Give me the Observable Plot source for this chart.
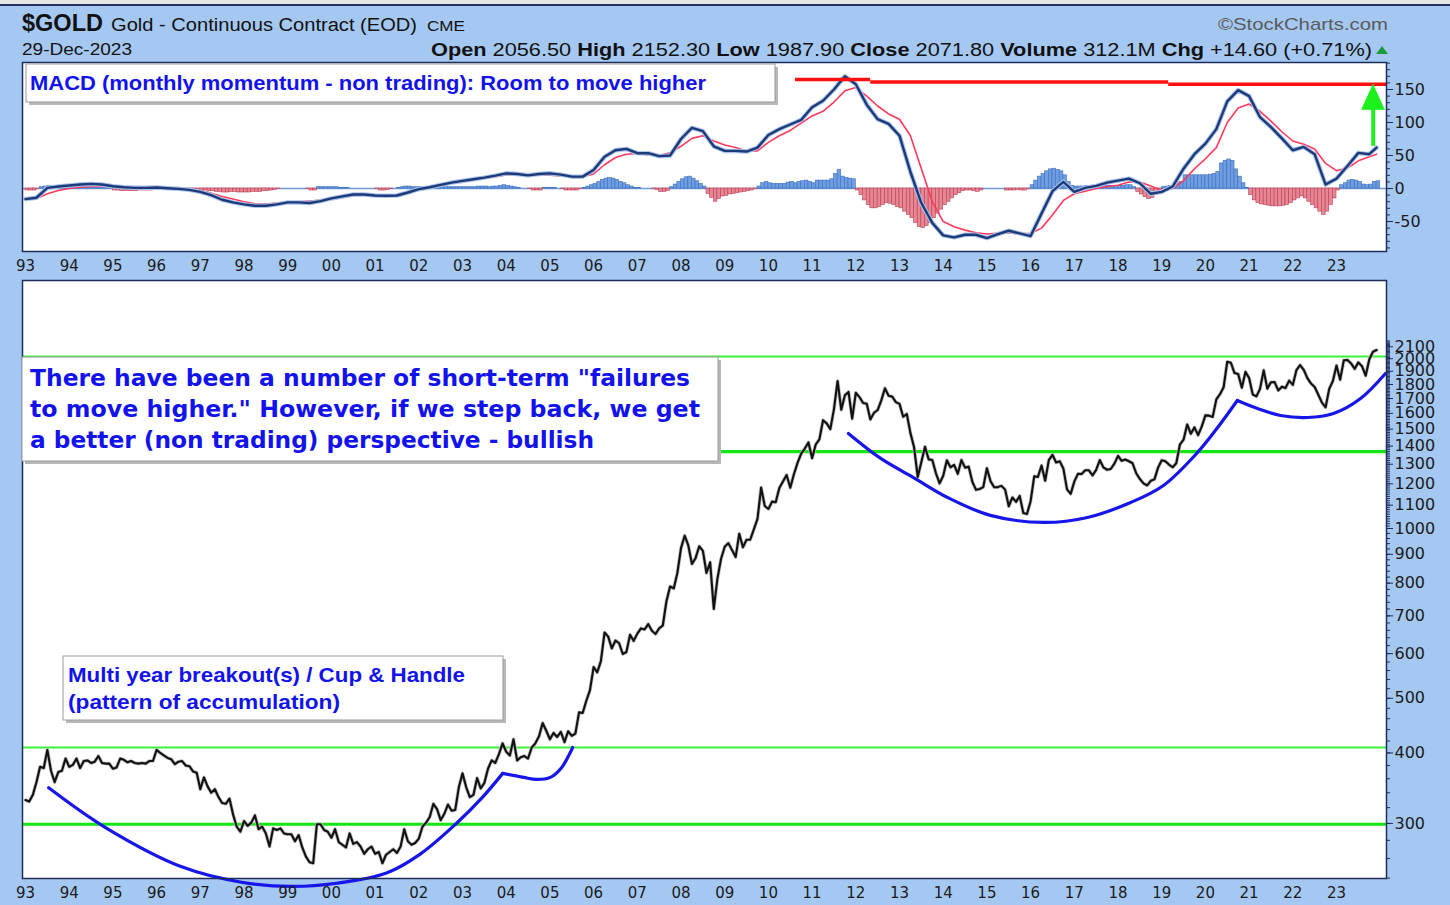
<!DOCTYPE html>
<html><head><meta charset="utf-8">
<script src="https://cdn.jsdelivr.net/npm/d3@7"></script>
<script src="https://cdn.jsdelivr.net/npm/@observablehq/plot@0.6"></script>
<style>
body{margin:0;}
#root{position:relative;width:1450px;height:905px;background:#a5c8f3;overflow:hidden;}
#macd{position:absolute;left:0;top:60px;}
#price{position:absolute;left:0;top:278px;}
#ov{position:absolute;left:0;top:0;pointer-events:none;}
</style></head>
<body><div id="root">
<div style="position:absolute;left:0;top:0;width:1450px;height:4px;background:#e6e6e6"></div>
<div style="position:absolute;left:0;top:4px;width:1450px;height:2px;background:#26325e"></div>
<div id="macd"></div>
<div id="price"></div>
<svg id="ov" width="1450" height="905" xmlns="http://www.w3.org/2000/svg">
  <g font-family="'Liberation Sans Narrow','Liberation Sans',Arial,sans-serif" fill="#111">
    <text x="22" y="31" font-size="23" font-weight="bold" textLength="81" lengthAdjust="spacingAndGlyphs">$GOLD</text>
    <text x="111" y="31" font-size="18" textLength="306" lengthAdjust="spacingAndGlyphs">Gold - Continuous Contract (EOD)</text>
    <text x="427" y="31" font-size="15" font-family="'Liberation Sans',Arial" textLength="38" lengthAdjust="spacingAndGlyphs">CME</text>
    <text x="1218" y="30" font-size="17" fill="#5a5a5a" textLength="170" lengthAdjust="spacingAndGlyphs">©StockCharts.com</text>
    <text x="22" y="55" font-size="16" font-family="'Liberation Sans',Arial" textLength="110" lengthAdjust="spacingAndGlyphs">29-Dec-2023</text>
    <text x="431" y="56" font-size="18" textLength="941" lengthAdjust="spacingAndGlyphs"><tspan font-weight="bold">Open</tspan> 2056.50  <tspan font-weight="bold">High</tspan> 2152.30  <tspan font-weight="bold">Low</tspan> 1987.90  <tspan font-weight="bold">Close</tspan> 2071.80  <tspan font-weight="bold">Volume</tspan> 312.1M  <tspan font-weight="bold">Chg</tspan> +14.60 (+0.71%)</text>
    <polygon points="1376,54 1382,46 1388,54" fill="#1a9a3a"/>
  </g>
  <!-- annotation boxes -->
  <rect x="29" y="67" width="749" height="38" fill="#b8b8b8"/>
  <rect x="26" y="64" width="749" height="38" fill="#fff" stroke="#9a9a9a"/>
  <text x="30" y="90" font-family="'Liberation Sans Narrow','Liberation Sans',Arial,sans-serif" font-size="21" font-weight="bold" fill="#1212ee" textLength="676" lengthAdjust="spacingAndGlyphs">MACD (monthly momentum - non trading): Room to move higher</text>

  <rect x="25" y="360" width="696" height="104" fill="#b8b8b8"/>
  <rect x="22" y="357" width="696" height="104" fill="#fff" stroke="#9a9a9a"/>
  <g font-family="'DejaVu Sans',Verdana,sans-serif" font-size="23" font-weight="bold" fill="#1212ee">
    <text x="30" y="386" textLength="660" lengthAdjust="spacingAndGlyphs">There have been a number of short-term "failures</text>
    <text x="30" y="417" textLength="670" lengthAdjust="spacingAndGlyphs">to move higher." However, if we step back, we get</text>
    <text x="30" y="448" textLength="564" lengthAdjust="spacingAndGlyphs">a better (non trading) perspective - bullish</text>
  </g>

  <rect x="66" y="659" width="440" height="64" fill="#b8b8b8"/>
  <rect x="63" y="656" width="440" height="64" fill="#fff" stroke="#9a9a9a"/>
  <g font-family="'Liberation Sans Narrow','Liberation Sans',Arial,sans-serif" font-size="21" font-weight="bold" fill="#1212ee">
    <text x="68" y="682" textLength="397" lengthAdjust="spacingAndGlyphs">Multi year breakout(s) / Cup &amp; Handle</text>
    <text x="68" y="709" textLength="272" lengthAdjust="spacingAndGlyphs">(pattern of accumulation)</text>
  </g>
</svg>
</div>
<script>
// ---------------- DATA ----------------
// Monthly gold closes, Jan 1993 .. Dec 2023 (one row per year)
const goldClose = [
 330,328,337,355,378,376,405,372,355,370,372,391,
 378,381,391,376,387,388,384,386,395,384,383,383,
 375,377,391,389,385,387,384,383,384,383,387,387,
 405,400,396,392,390,382,386,387,380,379,371,369,
 345,362,349,340,345,334,326,325,332,311,296,290,
 303,297,301,310,293,296,288,273,294,292,294,288,
 287,287,279,286,272,262,256,255,299,299,292,290,
 283,293,278,275,272,288,276,278,273,265,270,273,
 265,267,255,264,267,270,266,273,293,279,275,277,
 282,296,301,308,325,318,304,312,324,316,317,348,
 368,348,334,337,361,346,354,375,388,384,398,416,
 402,396,423,388,393,395,391,409,416,428,452,438,
 423,434,427,436,418,437,429,433,472,471,495,517,
 568,556,582,654,643,613,633,626,599,604,648,632,
 651,665,662,677,659,650,665,673,743,789,783,834,
 923,971,933,865,886,930,913,834,871,720,815,884,
 928,942,916,890,979,926,955,955,996,1040,1182,1096,
 1083,1116,1113,1180,1212,1244,1181,1248,1307,1357,1386,1421,
 1332,1409,1439,1556,1536,1500,1628,1826,1624,1722,1746,1566,
 1740,1710,1669,1664,1561,1604,1622,1687,1773,1719,1713,1675,
 1663,1578,1596,1476,1393,1234,1312,1396,1326,1323,1253,1202,
 1240,1321,1284,1296,1250,1322,1282,1287,1210,1171,1175,1184,
 1279,1213,1183,1184,1190,1172,1095,1135,1115,1142,1065,1061,
 1118,1238,1234,1293,1215,1322,1351,1309,1316,1277,1173,1152,
 1211,1250,1249,1268,1268,1242,1270,1322,1283,1271,1275,1303,
 1345,1318,1325,1316,1305,1253,1224,1202,1192,1215,1222,1282,
 1321,1316,1298,1284,1305,1409,1437,1529,1472,1511,1464,1517,
 1587,1585,1577,1694,1730,1780,1975,1967,1886,1879,1776,1895,
 1848,1728,1715,1768,1907,1770,1817,1818,1757,1784,1774,1829,
 1797,1909,1949,1911,1848,1807,1782,1726,1672,1640,1768,1826,
 1945,1836,1986,1990,1962,1919,1970,1940,1866,1994,2057,2072
];
// MACD line, quarterly readings 1993Q1 .. 2023Q4, then Dec 2023
const macdLine = [
 -16,-14,1,3,  4.5,6,7,6,  3.5,2,1,1,  1.5,0.5,-0.5,-2,  -5,-10,-17,-21,
 -24,-26,-26,-24,  -21,-21,-22,-19,  -15,-12,-9,-9,  -10.5,-11,-10.6,-6,  -1,2,5.5,9,
 11.5,14,16.5,19.5,  23,22,20,22,  23,21,18,18,  28,48,58,60,  53.5,53.5,49,50,
 75,92,87,64,  57,57,56,62,  81,90,97,104,  123,133,150,170,  158,127,105,98,
 80,25,-22,-52,  -71,-74,-70,-70,  -75,-69,-64,-68,  -72,-38,-4,10,  -5,1,4,9,
 12,15,8,-8,  -5,3,30,52,  68,90,132,149,  140,108,93,76,  58,63,52,6,
 15,34,54,52,  62
];
// Signal line, same dates
const signalLine = [
 -16,-15,-8,-3,  0,2,3,3.5,  3,2,1.5,1,  1,0.5,0,-1.5,  -3,-7,-12,-16,
 -20,-23,-23.5,-22,  -21,-20,-19,-18,  -16,-13,-11,-10,  -10,-10,-9,-5,  -2,2,5,8,
 10.5,13,15.5,18,  20.5,21,20,20,  20,19,18,18,  22,36,47,52,  53,51,50,54,
 64,76,80,72,  66,62,57,57,  70,80,88,99,  110,117,131,148,  153,140,125,113,
 105,80,30,-20,  -50,-58,-63,-67,  -69,-68,-67,-69,  -68,-60,-40,-18,  -8,-4,0,3,
 5,10,10,4,  -3,0,12,30,  45,62,100,122,  128,117,102,86,  72,67,60,38,
 27,31,42,48,  52
];
// MACD histogram, monthly Jan 1993 .. Dec 2023
const macdHist = [
 -3,-3,-3,-1,2,3,4,4,3,3,3,2,
 2,2,2,2,3,3,2,2,2,2,2,1,
 -3,-3,-4,-4,-4,-4,-4,-3,-3,-3,-3,-2,
 1,1,1,1,0,0,-2,-3,-3,-3,-3,-3,
 -3,-3,-4,-4,-5,-5,-6,-6,-5,-5,-6,-6,
 -6,-6,-5,-5,-5,-4,-4,-3,-2,-1,0,0,
 0,0,0,0,0,-1,-3,-3,2,2,2,2,
 2,2,1,1,1,0,0,0,0,0,0,0,
 -1,-3,-3,-2,-1,0,1,2,3,3,2,2,
 2,2,2,2,3,3,2,2,2,2,2,2,
 2,2,2,2,3,3,3,2,3,3,4,5,
 4,3,2,1,0,0,-1,-3,-3,-3,1,1,
 1,1,0,-1,-3,-3,-3,-3,-1,1,3,5,
 7,10,13,15,16,15,13,10,8,5,3,1,
 1,0,0,0,-1,-2,-5,-5,-4,2,6,10,
 14,17,18,15,11,7,3,-8,-14,-20,-16,-12,
 -11,-9,-8,-7,-6,-5,-4,-3,-1,3,8,10,
 8,7,7,7,7,9,10,8,10,11,12,10,
 8,12,12,12,12,14,22,28,18,16,15,14,
 -3,-10,-18,-25,-30,-30,-28,-25,-22,-23,-25,-28,
 -30,-35,-40,-45,-52,-58,-60,-57,-52,-45,-38,-32,
 -25,-20,-15,-10,-7,-4,-3,-3,-4,-5,-3,0,
 0,0,0,0,0,-3,-3,-3,-2,-3,-3,-1,
 5,12,18,22,26,29,30,28,26,20,10,4,
 3,3,3,4,4,4,4,5,5,4,4,4,
 4,4,5,5,2,-5,-9,-13,-16,-14,-9,-4,
 2,3,4,6,8,10,20,20,20,20,20,20,
 20,21,22,25,38,42,44,42,29,18,8,1,
 -10,-18,-22,-24,-25,-26,-27,-27,-27,-26,-25,-22,
 -18,-15,-12,-15,-20,-25,-30,-35,-40,-35,-25,-15,
 -3,5,8,12,13,12,10,6,5,6,10,11
];
// Hand-drawn MACD resistance (red) : [from year, to year, level]
const macdResistance = [[2010.62, 2012.34, 165], [2012.34, 2019.16, 161.5], [2019.16, 2024.15, 158]];
// Green arrow in MACD panel
const arrowShaft = {t: 2023.84, from: 64, to: 121};
const arrowHead = [{t: 2023.84, v: 158}, {t: 2023.58, v: 120}, {t: 2024.10, v: 120}];
// Price support / resistance levels (green)
const thickLevels = [1369, 299];
const thinLevels = [2018, 409];
// Hand-drawn cup & handle curves (year, price)
const cup1 = [[1993.53,347],[1994.83,295],[1996.59,251],[1997.94,236],[1999.09,232],[2000.12,235],[2001.26,245],[2002.04,265],[2002.84,299],[2003.46,334],[2003.92,368]];
const handle1 = [[2003.92,368],[2004.40,362],[2004.69,359],[2005.01,362],[2005.27,377],[2005.52,409]];
const cup2 = [[2011.83,1474],[2012.57,1331],[2013.32,1231],[2014.10,1135],[2015.08,1055],[2016.30,1025],[2017.30,1046],[2018.29,1112],[2019.04,1192],[2019.82,1364],[2020.28,1510],[2020.73,1686]];
const handle2 = [[2020.73,1686],[2021.19,1632],[2021.72,1586],[2022.34,1573],[2022.93,1599],[2023.55,1700],[2024.12,1883]];
// Axis ticks
const yearTicks = d3.range(1993, 2024);
const macdTicks = [-50, 0, 50, 100, 150];
const priceTicks = [300,400,500,600,700,800,900,1000,1100,1200,1300,1400,1500,1600,1700,1800,1900,2000,2100];

// ---------------- BUILD ----------------
const xDomain = [1992.931, 2024.144];
const yearLabel = d => String(d).slice(2);
const monthT = i => 1993 + i / 12;
const qT = i => (i < 124 ? 1993 + i / 4 : 2023 + 11 / 12);

const price = goldClose.map((v, i) => ({t: monthT(i), v}));
const macd = macdLine.map((v, i) => ({t: qT(i), v}));
const signal = signalLine.map((v, i) => ({t: qT(i), v}));
const hist = macdHist.map((v, i) => ({t: monthT(i), t2: monthT(i) + 1 / 12, v}));
const toPts = a => a.map(([t, v]) => ({t, v}));

const baseStyle = {background: "transparent", fontFamily: "'DejaVu Sans', Verdana, sans-serif", fontSize: "15px", color: "#1a1a1a", overflow: "visible"};
const frameColor = "#1e2c5c";

const macdPlot = Plot.plot({
  width: 1450, height: 218,
  marginLeft: 22, marginRight: 64, marginTop: 2, marginBottom: 27,
  style: baseStyle,
  x: {domain: xDomain, label: null},
  y: {domain: [-95.4, 190.9], label: null},
  marks: [
    Plot.frame({fill: "white", stroke: "none"}),
    Plot.ruleY([0], {stroke: "#6f9bd8", strokeWidth: 1.3}),
    Plot.rect(hist.filter(d => d.v > 0), {x1: "t", x2: "t2", y1: 0, y2: "v", fill: "#6f9de0", stroke: "#3c6fc0", strokeWidth: 0.6}),
    Plot.rect(hist.filter(d => d.v < 0), {x1: "t", x2: "t2", y1: 0, y2: "v", fill: "#e58895", stroke: "#c23a52", strokeWidth: 0.6}),
    Plot.line(signal, {x: "t", y: "v", stroke: "#ff3a5c", strokeWidth: 1.6}),
    Plot.line(macd, {x: "t", y: "v", stroke: "#a9c1ea", strokeWidth: 4.5}),
    Plot.line(macd, {x: "t", y: "v", stroke: "#1c3a78", strokeWidth: 2.4}),
    Plot.ruleY(macdResistance, {x1: d => d[0], x2: d => d[1], y: d => d[2], stroke: "#ff1010", strokeWidth: 3.5}),
    Plot.ruleX([arrowShaft], {x: "t", y1: "from", y2: "to", stroke: "#1df01d", strokeWidth: 4}),
    Plot.line(arrowHead, {x: "t", y: "v", fill: "#1df01d", stroke: "#1df01d", strokeWidth: 1}),
    Plot.axisX({ticks: yearTicks, tickFormat: yearLabel, tickSize: 0, tickPadding: 9, fontSize: 15}),
    Plot.axisY({anchor: "right", ticks: d3.range(-90, 191, 10), tickSize: 3, tickFormat: () => "", stroke: frameColor}),
    Plot.axisY({anchor: "right", ticks: macdTicks, tickSize: 6, tickPadding: 2, tickFormat: d => String(d), fontSize: 16, stroke: frameColor}),
    Plot.frame({stroke: frameColor, strokeWidth: 1.5})
  ]
});
document.getElementById("macd").append(macdPlot);

const minorPriceTicks = d3.range(240, 1000, 20).concat(d3.range(1000, 2160, 10));
const pricePlot = Plot.plot({
  width: 1450, height: 627,
  marginLeft: 22, marginRight: 64, marginTop: 2, marginBottom: 27,
  style: baseStyle,
  x: {domain: xDomain, label: null},
  y: {type: "log", domain: [239.6, 2752], label: null},
  marks: [
    Plot.frame({fill: "white", stroke: "none"}),
    Plot.ruleY(thinLevels, {stroke: "#3cf03c", strokeWidth: 2}),
    Plot.ruleY(thickLevels, {stroke: "#14e614", strokeWidth: 3.2}),
    Plot.line(price, {x: "t", y: "v", stroke: "#bdbdbd", strokeWidth: 3.6}),
    Plot.line(price, {x: "t", y: "v", stroke: "#111", strokeWidth: 2.1}),
    Plot.line(toPts(cup1), {x: "t", y: "v", stroke: "#1616ea", strokeWidth: 3.2, curve: "catmull-rom"}),
    Plot.line(toPts(handle1), {x: "t", y: "v", stroke: "#1616ea", strokeWidth: 3.2, curve: "catmull-rom"}),
    Plot.line(toPts(cup2), {x: "t", y: "v", stroke: "#1616ea", strokeWidth: 3.2, curve: "catmull-rom"}),
    Plot.line(toPts(handle2), {x: "t", y: "v", stroke: "#1616ea", strokeWidth: 3.2, curve: "catmull-rom"}),
    Plot.axisX({ticks: yearTicks, tickFormat: yearLabel, tickSize: 0, tickPadding: 9, fontSize: 15}),
    Plot.axisY({anchor: "right", ticks: minorPriceTicks, tickSize: 3, tickFormat: () => "", stroke: frameColor}),
    Plot.axisY({anchor: "right", ticks: priceTicks, tickSize: 6, tickPadding: 2, tickFormat: d => String(d), fontSize: 16, stroke: frameColor}),
    Plot.frame({stroke: frameColor, strokeWidth: 1.5})
  ]
});
document.getElementById("price").append(pricePlot);
</script>
</body></html>
